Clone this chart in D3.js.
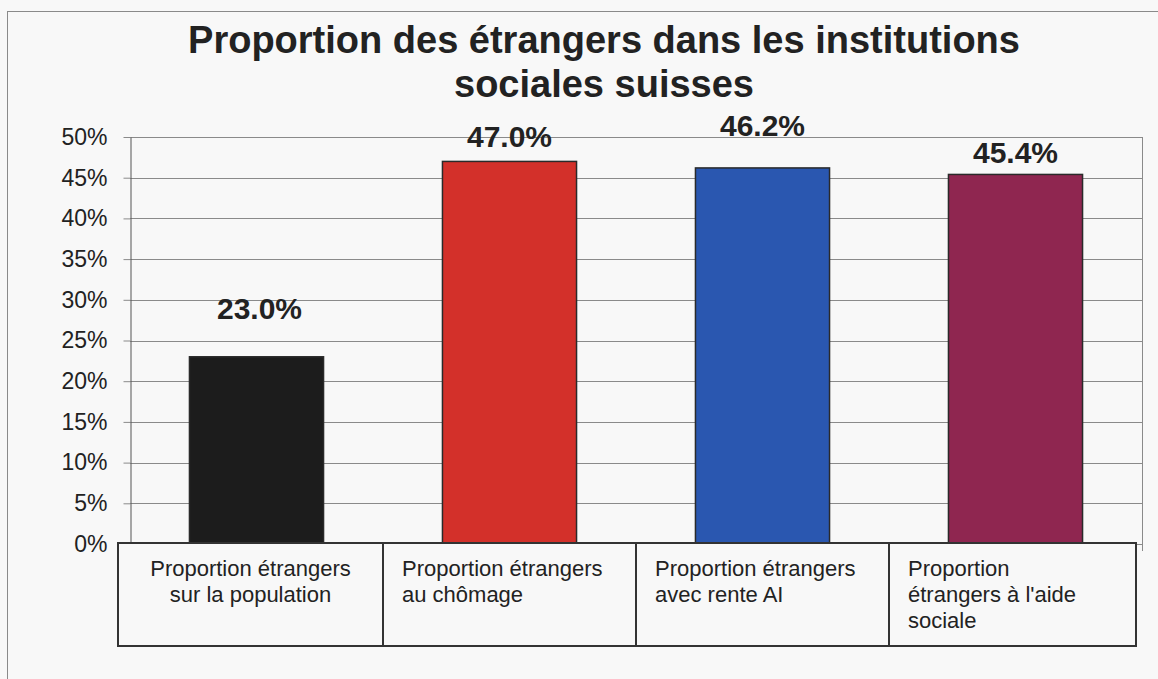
<html>
<head>
<meta charset="utf-8">
<style>
  body { margin: 0; background: #f8f8f8; }
  svg text { font-family: "Liberation Sans", Arial, sans-serif; fill: #222; }
  .title { font-size: 38px; font-weight: bold; text-anchor: middle; }
  .tick text { font-size: 23px; }
  .vlabel { font-size: 30px; font-weight: bold; text-anchor: middle; }
  .cat { font-size: 22px; }
</style>
</head>
<body>
<svg id="chart" width="1158" height="679"></svg>
<script src="https://d3js.org/d3.v7.min.js"></script>
<script>
// data
var categories = ["population", "chomage", "rente", "aide"];
var categoryLines = [
  ["Proportion étrangers", "sur la population"],
  ["Proportion étrangers", "au chômage"],
  ["Proportion étrangers", "avec rente AI"],
  ["Proportion", "étrangers à l'aide", "sociale"]
];
var values = [0.230, 0.470, 0.462, 0.454];
var colors = ["#1c1c1c", "#d3302a", "#2a57b0", "#8f2650"];
var yTicks = [0, 0.05, 0.10, 0.15, 0.20, 0.25, 0.30, 0.35, 0.40, 0.45, 0.50];
var titleLines = ["Proportion des étrangers dans les institutions", "sociales suisses"];

// layout (window.top is taken, so plot edges get their own names)
var plotLeft = 130, plotRight = 1142, plotTop = 137, plotBottom = 544;
var labelGap = [38, 14, 32, 11];      // labels were placed by hand in the original
var catCentered = [true, false, false, false];

var svg = d3.select("#chart");

// outer frame (runs off the right and bottom of the picture)
svg.append("rect")
  .attr("x", 7.5).attr("y", 11.5)
  .attr("width", 1200).attr("height", 720)
  .attr("fill", "none").attr("stroke", "#8a8a8a");

svg.selectAll("text.title")
  .data(titleLines)
  .enter().append("text")
  .attr("class", "title")
  .attr("x", 604)
  .attr("y", function(d, i) { return 53 + i * 44; })
  .text(function(d) { return d; });

var x = d3.scaleBand().domain(categories).range([plotLeft, plotRight]).paddingInner(0.47).paddingOuter(0.235);
var y = d3.scaleLinear().domain([0, 0.5]).range([plotBottom, plotTop]);

// gridlines
svg.selectAll("line.grid")
  .data(yTicks)
  .enter().append("line")
  .attr("class", "grid")
  .attr("x1", plotLeft).attr("x2", plotRight)
  .attr("y1", function(d) { return Math.round(y(d)) + 0.5; })
  .attr("y2", function(d) { return Math.round(y(d)) + 0.5; })
  .attr("stroke", "#8a8a8a");

// plot border
svg.append("line").attr("x1", plotRight + 0.5).attr("x2", plotRight + 0.5).attr("y1", plotTop).attr("y2", plotBottom + 7)
  .attr("stroke", "#8a8a8a");

// y axis
var yAxis = svg.append("g")
  .attr("transform", "translate(" + (plotLeft + 0.5) + ",0)")
  .call(d3.axisLeft(y).tickValues(yTicks).tickFormat(d3.format(".0%")).tickSize(7).tickSizeOuter(0).tickPadding(16));
yAxis.select(".domain").attr("stroke", "#555");
yAxis.selectAll(".tick line").attr("stroke", "#8a8a8a");
yAxis.selectAll(".tick text").style("font-size", "23px").attr("fill", "#222");

// bars
svg.selectAll("rect.bar")
  .data(values)
  .enter().append("rect")
  .attr("class", "bar")
  .attr("x", function(d, i) { return x(categories[i]); })
  .attr("width", x.bandwidth())
  .attr("y", function(d) { return y(d); })
  .attr("height", function(d) { return y(0) - y(d); })
  .attr("fill", function(d, i) { return colors[i]; })
  .attr("stroke", "#2a2a2a")
  .attr("stroke-width", 1.5);

// value labels
svg.selectAll("text.vlabel")
  .data(values)
  .enter().append("text")
  .attr("class", "vlabel")
  .attr("x", function(d, i) { return x(categories[i]) + x.bandwidth() / 2 + (i == 0 ? 3 : 0); })
  .attr("y", function(d, i) { return y(d) - labelGap[i]; })
  .text(d3.format(".1%"));

// category boxes
var step = x.step();
var boxTop = 543, boxBottom = 646;
var boxes = svg.selectAll("g.cat")
  .data(categoryLines)
  .enter().append("g")
  .attr("class", "cat");

boxes.append("rect")
  .attr("x", function(d, i) { return plotLeft + i * step + (i == 0 ? -12 : 0); })
  .attr("y", boxTop)
  .attr("width", function(d, i) { return step + (i == 0 ? 12 : 0) - (i == 3 ? 6 : 0); })
  .attr("height", boxBottom - boxTop)
  .attr("fill", "#f8f8f8")
  .attr("stroke", "#333")
  .attr("stroke-width", 2);

boxes.each(function(lines, i) {
  var g = d3.select(this);
  var x0 = plotLeft + i * step;
  g.selectAll("text")
    .data(lines)
    .enter().append("text")
    .attr("class", "cat")
    .attr("x", catCentered[i] ? x0 + step / 2 - 6 : x0 + 19)
    .attr("y", function(d, j) { return boxTop + 33 + j * 26; })
    .attr("text-anchor", catCentered[i] ? "middle" : "start")
    .text(function(d) { return d; });
});
</script>
</body>
</html>
